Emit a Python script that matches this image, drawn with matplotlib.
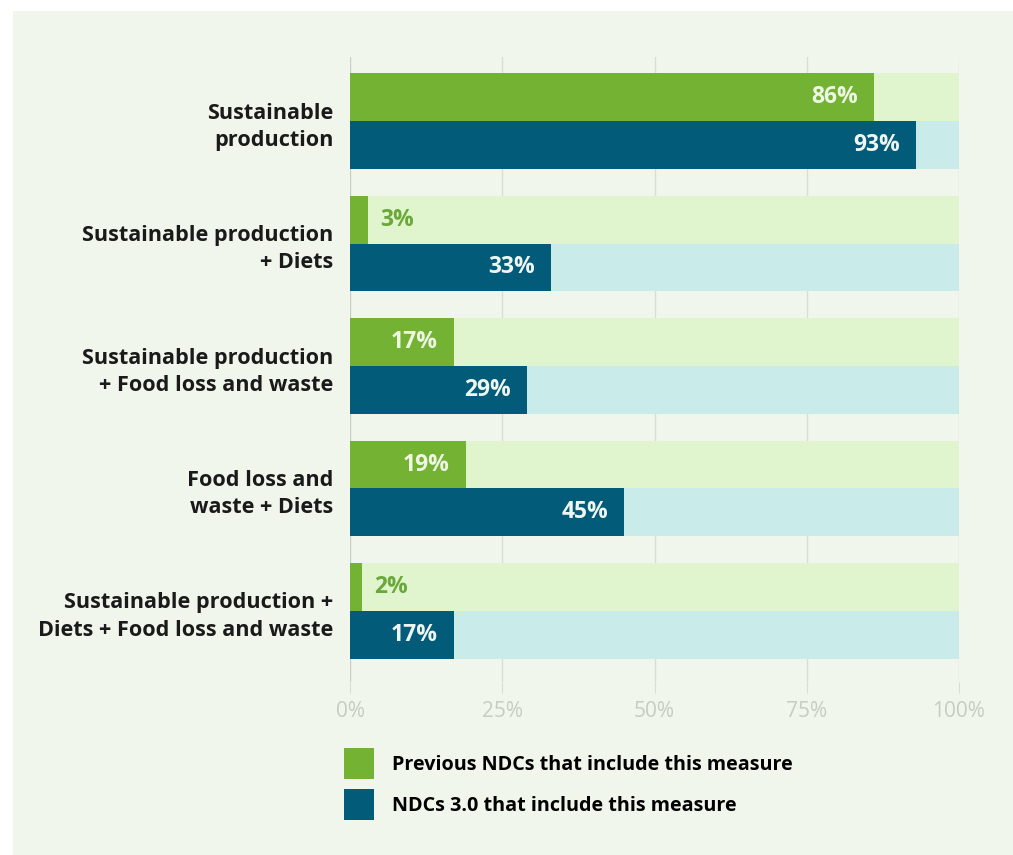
import numpy as np
import matplotlib.pyplot as plt
from matplotlib.patches import Rectangle, Patch

# Dados
categories = [
    "Sustainable\nproduction",
    "Sustainable production\n+ Diets",
    "Sustainable production\n+ Food loss and waste",
    "Food loss and\nwaste + Diets",
    "Sustainable production +\nDiets + Food loss and waste",
]
previous_ndcs = [86, 3, 17, 19, 2]
ndcs_30 = [93, 33, 29, 45, 17]
tick_values = [0, 25, 50, 75, 100]
tick_labels = ["0%", "25%", "50%", "75%", "100%"]
legend_labels = ["Previous NDCs that include this measure",
                 "NDCs 3.0 that include this measure"]

# Cores
green = "#74b234"
green_light = "#e0f5cd"
teal = "#035b7a"
teal_light = "#c9ebea"
panel_bg = "#f1f6ec"
grid_col = "#d9ddd6"
tick_col = "#c6ccc4"

plt.rcParams['font.family'] = ['Open Sans', 'DejaVu Sans']

fig = plt.figure(figsize=(10.13, 8.55), dpi=100)
fig.patch.set_facecolor("white")
fig.patches.append(Rectangle((13 / 1013, 0), 1 - 13 / 1013, 1 - 11 / 855,
                             transform=fig.transFigure, facecolor=panel_bg,
                             edgecolor="none", zorder=-5))

ax = fig.add_axes([350 / 1013, 1 - 682 / 855, 609 / 1013, 625 / 855])
ax.set_facecolor("none")
ax.set_zorder(2)

y = np.arange(len(categories))
h = 0.39
y_prev = y - h / 2
y_new = y + h / 2

# fundo das barras (100%)
ax.barh(y_prev, [100] * len(y), height=h, color=green_light, zorder=2)
ax.barh(y_new, [100] * len(y), height=h, color=teal_light, zorder=2)
ax.barh(y_prev, previous_ndcs, height=h, color=green, zorder=3)
ax.barh(y_new, ndcs_30, height=h, color=teal, zorder=3)

# rótulos de valor
for yy, v in zip(y_prev, previous_ndcs):
    if v >= 10:
        ax.annotate(f"{v}%", (v, yy), xytext=(-16, 0), textcoords="offset pixels",
                    ha="right", va="center", color="#eef6e4", fontsize=16.5,
                    fontweight="bold", zorder=4)
    else:
        ax.annotate(f"{v}%", (v, yy), xytext=(12, 0), textcoords="offset pixels",
                    ha="left", va="center", color="#6aa83a", fontsize=16.5,
                    fontweight="bold", zorder=4)
for yy, v in zip(y_new, ndcs_30):
    ax.annotate(f"{v}%", (v, yy), xytext=(-16, 0), textcoords="offset pixels",
                ha="right", va="center", color="#eef6f2", fontsize=16.5,
                fontweight="bold", zorder=4)

ax.set_xlim(0, 100)
ax.set_ylim(4.58, -0.523)

ax.set_xticks(tick_values)
ax.set_xticklabels(tick_labels, color=tick_col, fontsize=15)
ax.tick_params(axis="x", length=8, color=grid_col, pad=6)
ax.set_yticks(y)
ax.set_yticklabels(categories, fontsize=15.6, fontweight="bold", color="#1a1a1a",
                   linespacing=1.38)
ax.tick_params(axis="y", length=0, pad=12)

for t in tick_values:
    ax.axvline(t, color=grid_col if t else "#c9cec6", lw=1, zorder=1)
for s in ax.spines.values():
    s.set_visible(False)

handles = [Patch(facecolor=green), Patch(facecolor=teal)]
fig.legend(handles, legend_labels, loc="upper left",
           bbox_to_anchor=(344 / 1013, 1 - 748 / 855), frameon=False,
           handlelength=1.5, handleheight=2.0, handletextpad=0.95,
           labelspacing=0.55, borderpad=0, borderaxespad=0,
           prop={"weight": "bold", "size": 14.25})

fig.savefig("out.png", dpi=100, facecolor=fig.get_facecolor())
